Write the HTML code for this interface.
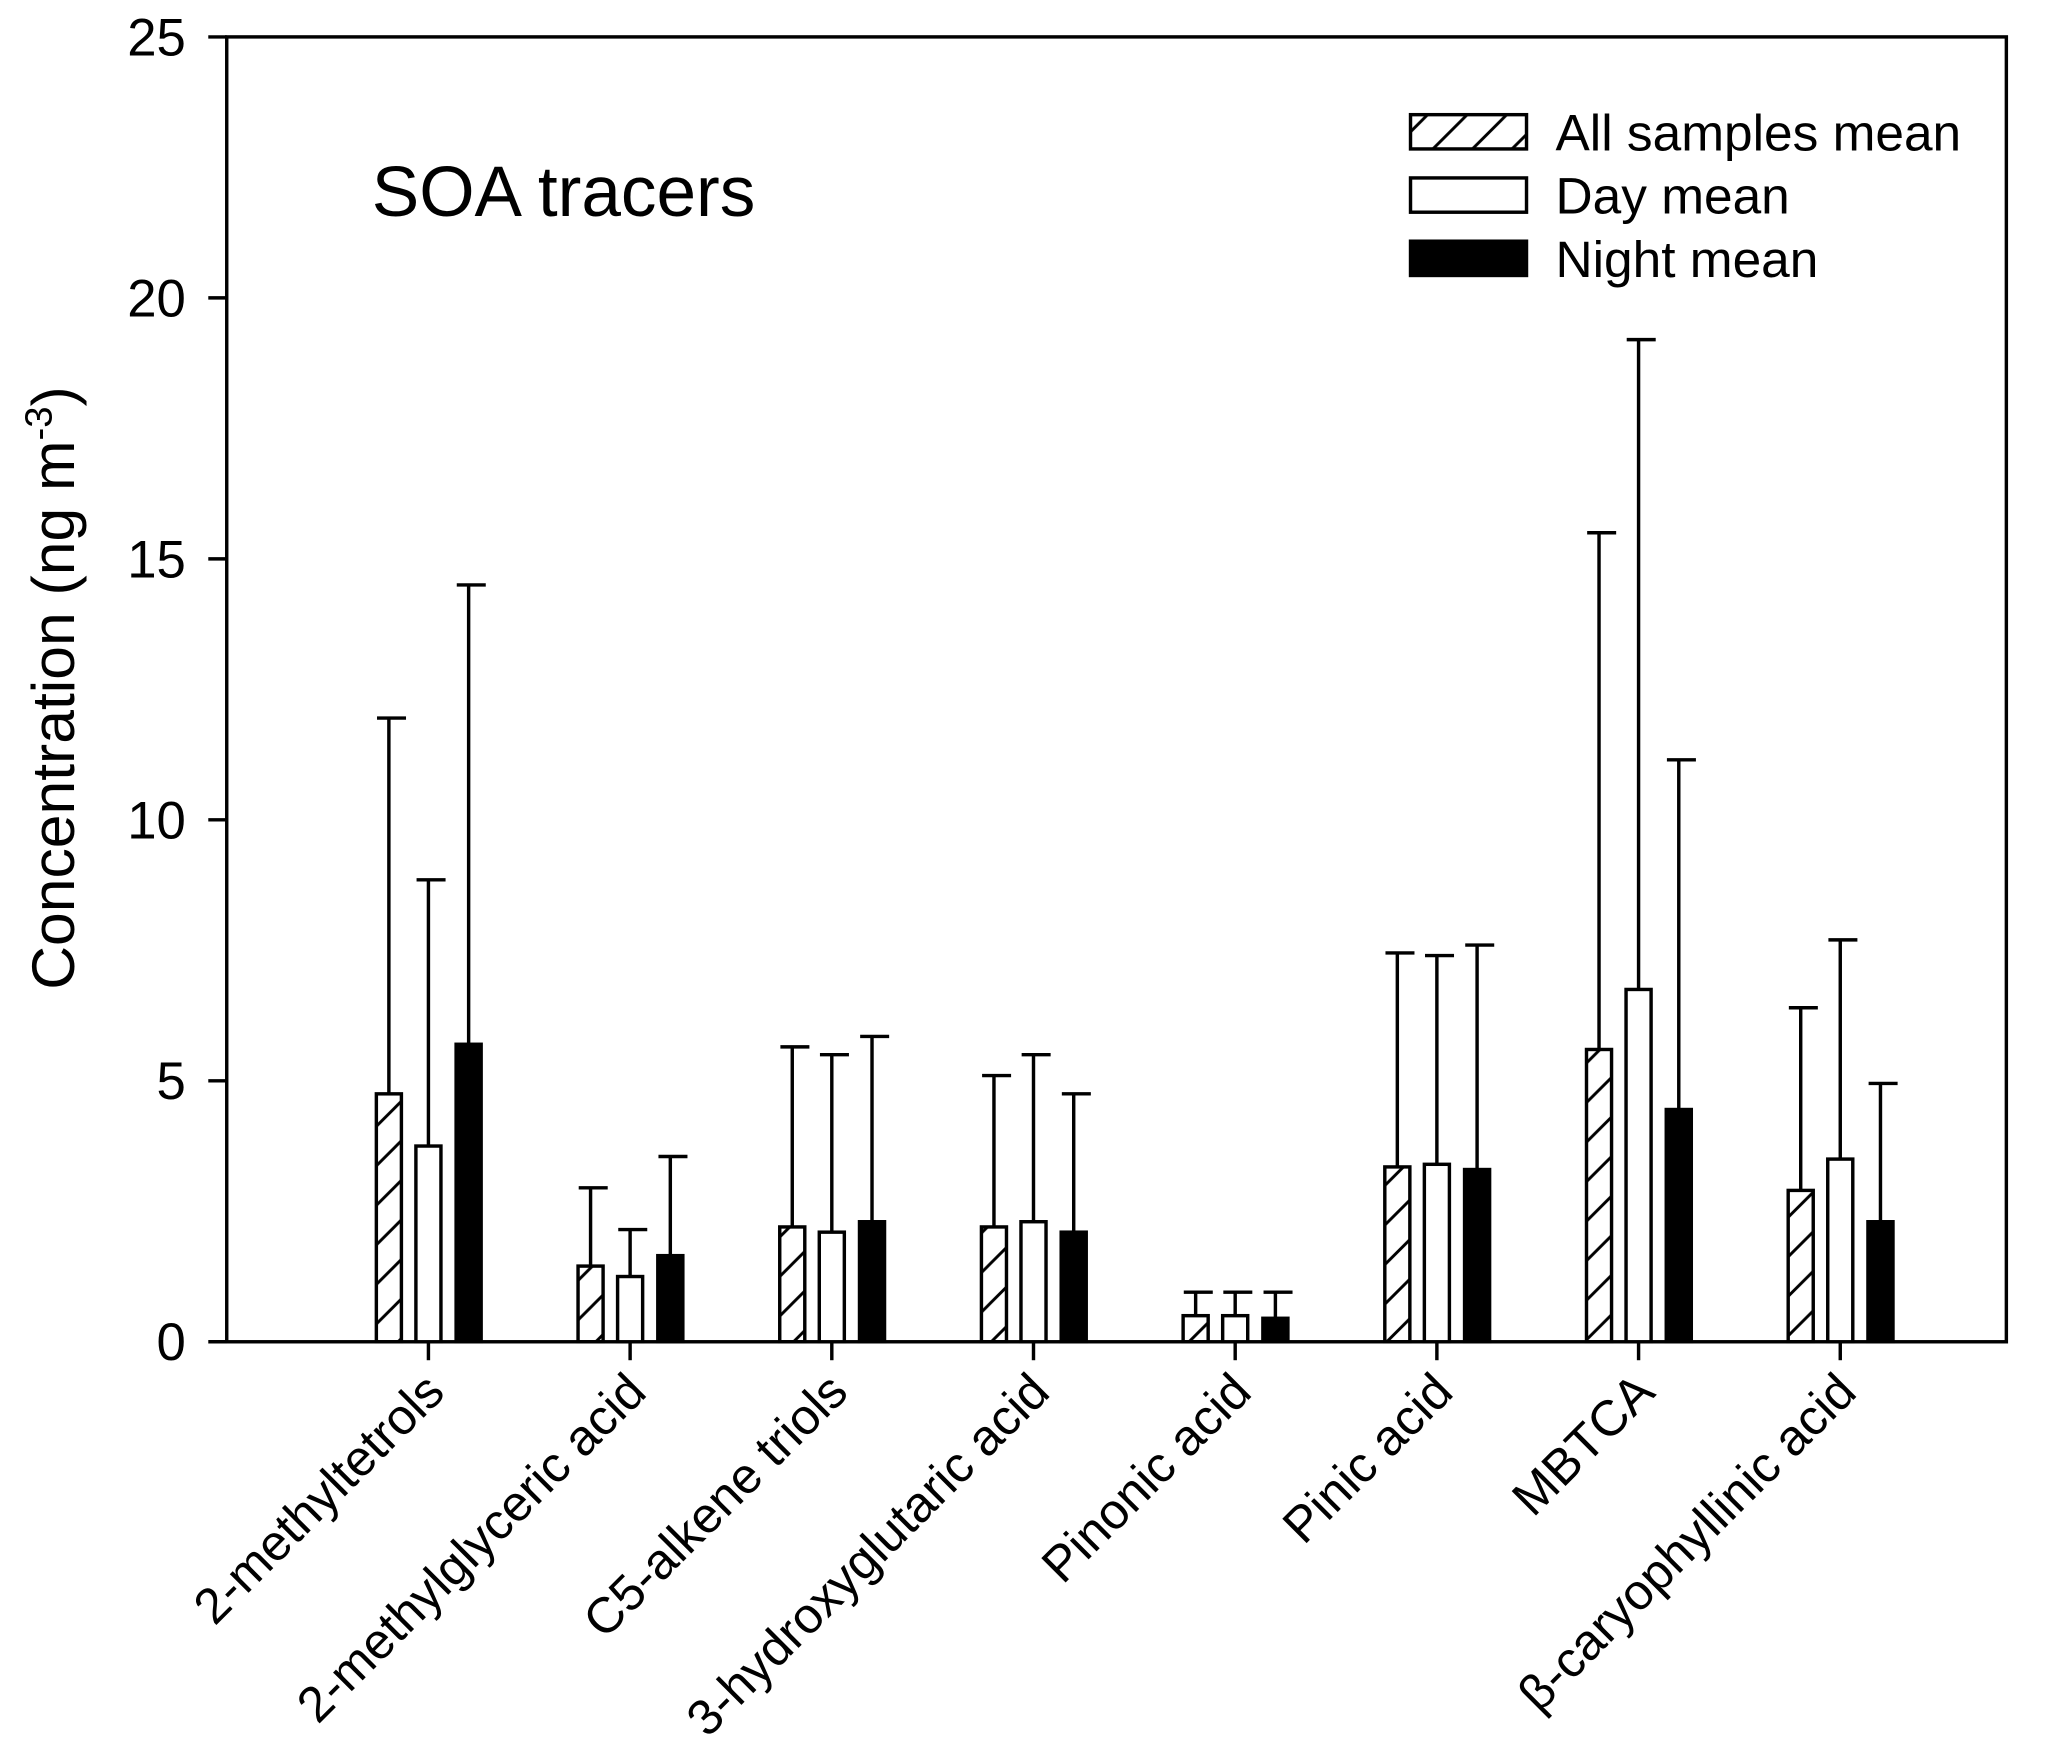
<!DOCTYPE html>
<html><head><meta charset="utf-8"><style>
html,body{margin:0;padding:0;background:#fff;}
svg{display:block;}
text{font-family:"Liberation Sans",Arial,sans-serif;fill:#000;}
</style></head><body>
<svg id="chart" width="2067" height="1753" viewBox="0 0 1568 1330" preserveAspectRatio="none" xmlns="http://www.w3.org/2000/svg">
<defs>
<pattern id="hatch" patternUnits="userSpaceOnUse" width="30" height="30">
<path d="M-3,33 L33,-3 M-18,18 L18,-18 M12,48 L48,12" stroke="#000" stroke-width="2.2"/>
</pattern>
</defs>
<g id="plot"></g>
</svg>
<script>
const categories = ["2-methyltetrols","2-methylglyceric acid","C5-alkene triols","3-hydroxyglutaric acid","Pinonic acid","Pinic acid","MBTCA","\u03B2-caryophyllinic acid"];
const allMean = [4.75,1.45,2.2,2.2,0.5,3.35,5.6,2.9];
const allErr  = [11.95,2.95,5.65,5.1,0.95,7.45,15.5,6.4];
const dayMean = [3.75,1.25,2.1,2.3,0.5,3.4,6.75,3.5];
const dayErr  = [8.85,2.15,5.5,5.5,0.95,7.4,19.2,7.7];
const nightMean = [5.7,1.65,2.3,2.1,0.45,3.3,4.45,2.3];
const nightErr  = [14.5,3.55,5.85,4.75,0.95,7.6,11.15,4.95];
const yTicks = [0,5,10,15,20,25];

const NS="http://www.w3.org/2000/svg";
const g=document.getElementById('plot');
const L=172,R=1522,T=28,B=1018;
const SW=2.6;
function y(v){return B-(v/25)*(B-T);}
function x(i){return 325+i*153;}
function mk(tag,attrs,parent){const e=document.createElementNS(NS,tag);for(const k in attrs)e.setAttribute(k,attrs[k]);(parent||g).appendChild(e);return e;}

const frame=mk('rect',{x:L,y:T,width:R-L,height:B-T,fill:'none',stroke:'#000','stroke-width':SW});



yTicks.forEach(v=>{
  const t=mk('line',{x1:L-14,x2:L,y1:y(v),y2:y(v),stroke:'#000','stroke-width':SW});
  
  
  const lb=mk('text',{x:141,y:y(v)+14,'text-anchor':'end','font-size':40});
  lb.textContent=v;
  
  
});

const series=[
  {m:allMean,e:allErr,off:-30,fill:'url(#hatch)',n:'all'},
  {m:dayMean,e:dayErr,off:0,fill:'#fff',n:'day'},
  {m:nightMean,e:nightErr,off:30.5,fill:'#000',n:'night'}
];
categories.forEach((c,i)=>{
  const t=mk('line',{x1:x(i),x2:x(i),y1:B,y2:B+14,stroke:'#000','stroke-width':SW});
  
  
  series.forEach(s=>{
    const cx=x(i)+s.off, w=19;
    const eb=mk('path',{d:`M${cx},${y(s.m[i])} V${y(s.e[i])} M${cx-9},${y(s.e[i])} H${cx+13}`,stroke:'#000','stroke-width':SW,fill:'none'});
    
    
    const r=mk('rect',{x:cx-w/2,y:y(s.m[i]),width:w,height:B-y(s.m[i]),fill:s.fill,stroke:'#000','stroke-width':SW});
    
    
  });
  const lb=mk('text',{x:0,y:0,'text-anchor':'end','font-size':38,transform:`translate(${x(i)+14},${B+40}) rotate(-45)`});
  lb.textContent=c;
  
  
});

const yt=mk('text',{x:0,y:0,'text-anchor':'middle','font-size':46,transform:'translate(56,522) rotate(-90)'});
yt.innerHTML='Concentration (ng m<tspan dy="-17" font-size="29">-3</tspan><tspan dy="17">)</tspan>';



const title=mk('text',{x:282,y:164,'font-size':54});
title.textContent='SOA tracers';



const leg=[['All samples mean','url(#hatch)'],['Day mean','#fff'],['Night mean','#000']];
leg.forEach((l,k)=>{
  const yy=87+k*48;
  const b=mk('rect',{x:1070,y:yy,width:88,height:26,fill:l[1],stroke:'#000','stroke-width':SW});
  
  
  const tx=mk('text',{x:1180,y:yy+27,'font-size':39});
  tx.textContent=l[0];
  
  
});
</script>
</body></html>
